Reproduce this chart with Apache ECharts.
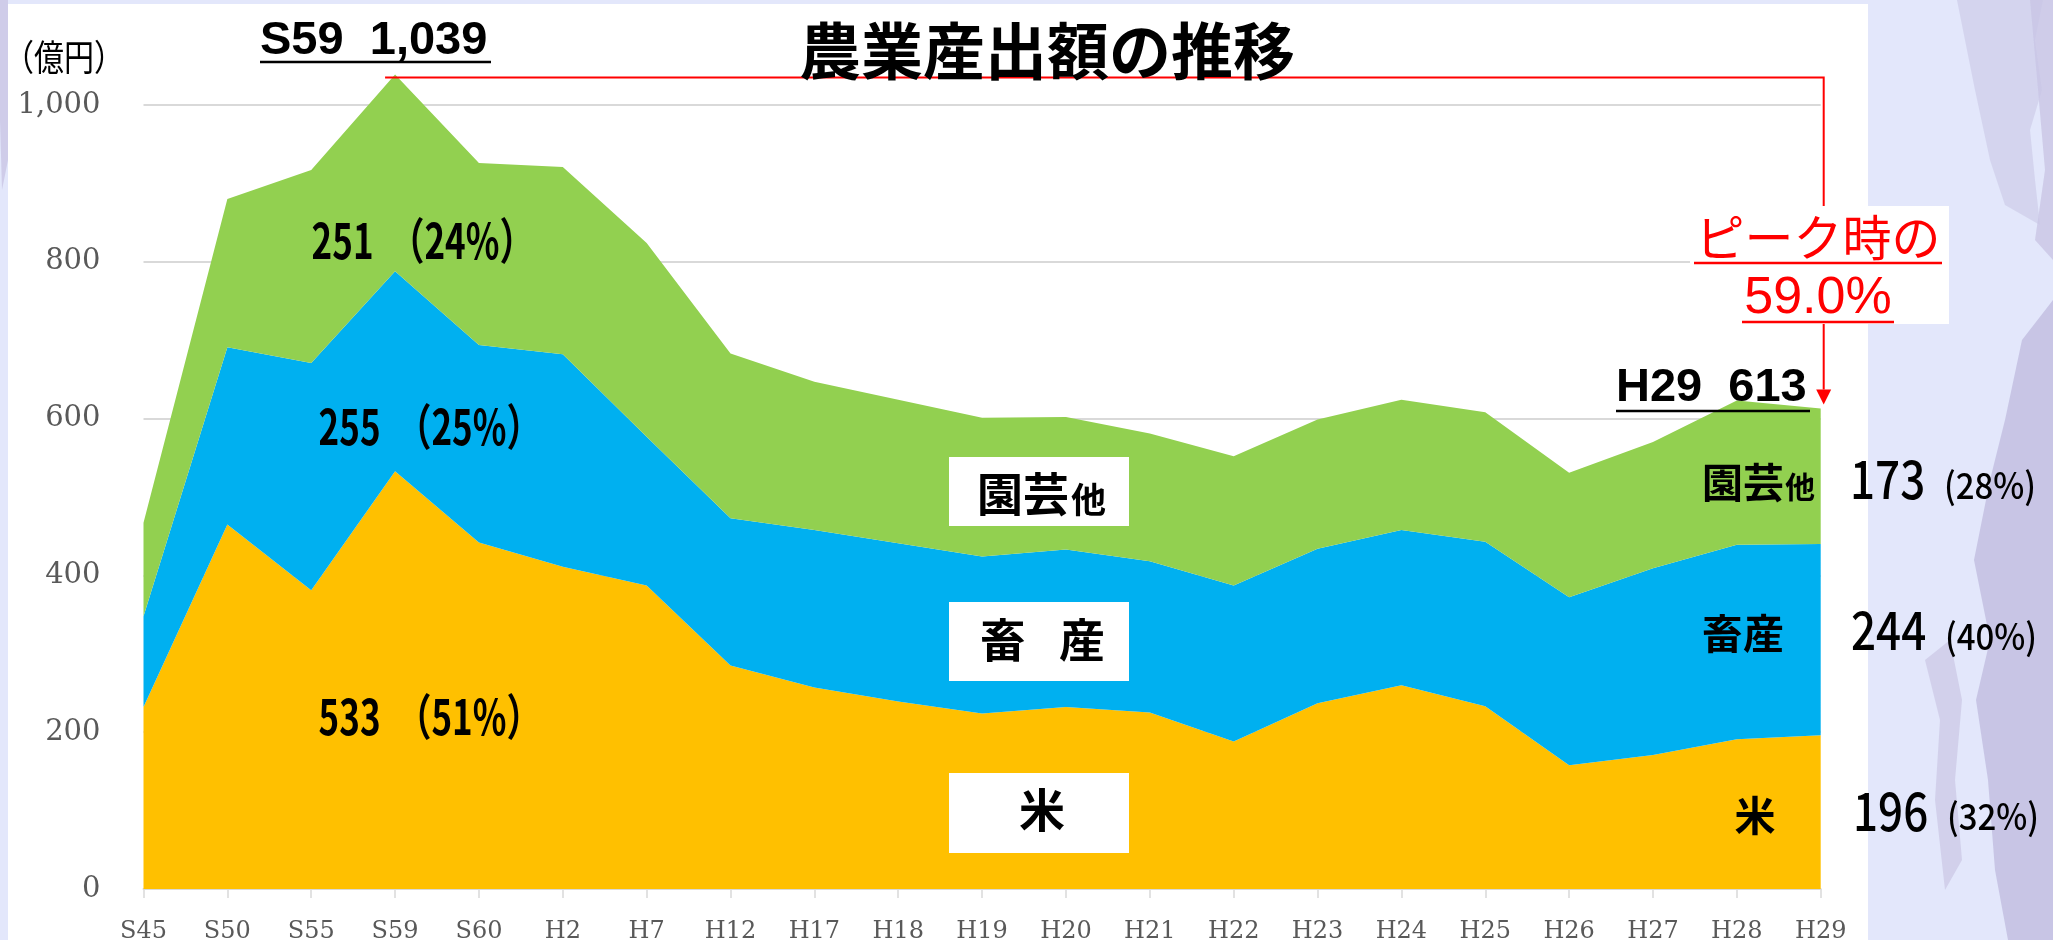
<!DOCTYPE html>
<html>
<head>
<meta charset="utf-8">
<script src="https://cdn.jsdelivr.net/npm/echarts@6/dist/echarts.min.js"></script>
<style>
  html, body { margin: 0; padding: 0; background: #e3e7fb; overflow: hidden; }
  #panel { position: absolute; left: 8px; top: 4px; width: 1860px; height: 936px; background: #fff; }
  #chart { position: absolute; left: 0; top: 0; width: 2053px; height: 940px; }
</style>
</head>
<body>
<div id="panel"></div>
<div id="chart"></div>
<script>
// 年次
const categories = ['S45', 'S50', 'S55', 'S59', 'S60', 'H2', 'H7', 'H12', 'H17', 'H18', 'H19',
  'H20', 'H21', 'H22', 'H23', 'H24', 'H25', 'H26', 'H27', 'H28', 'H29'];
// 米 (億円)
const rice = [232, 465, 381, 533, 442, 411, 387, 285, 257, 239, 224,
  232, 225, 188, 237, 260, 233, 158, 171, 191, 196];
// 畜産 (億円)
const livestock = [116, 226, 290, 255, 252, 271, 190, 188, 201, 202, 200,
  201, 193, 199, 197, 198, 210, 214, 238, 248, 244];
// 園芸他 (億円)
const horticulture = [119, 189, 246, 251, 232, 239, 247, 210, 189, 183, 177,
  169, 163, 165, 165, 166, 165, 159, 161, 184, 173];
// 縦軸
const yTicks = [0, 200, 400, 600, 800, 1000];

const chart = echarts.init(document.getElementById('chart'));

const totals = categories.map((c, i) => rice[i] + livestock[i] + horticulture[i]);
const peakIdx = categories.indexOf('S59');
const lastIdx = categories.length - 1;
const pct = (v, t) => Math.round(v / t * 100) + '%';
const fmt = (v) => v.toLocaleString('en-US');

const JP = '"Noto Sans CJK JP", "Noto Sans", sans-serif';
const AR = '"Liberation Sans", Arial, sans-serif';
const SERIF = '"DejaVu Serif", "Liberation Serif", serif';

function areaSeries(name, data, color) {
  return {
    name: name,
    type: 'line',
    stack: 'total',
    data: data,
    clip: false,
    symbol: 'none',
    showSymbol: false,
    lineStyle: { width: 0 },
    areaStyle: { color: color, opacity: 1 },
    itemStyle: { color: color },
    silent: true
  };
}

chart.setOption({
  backgroundColor: 'transparent',
  animation: false,
  grid: { left: 143.5, right: 232.3, top: 105, bottom: 51, containLabel: false, outerBoundsMode: 'none' },
  xAxis: {
    type: 'category',
    data: categories,
    boundaryGap: false,
    axisLine: { lineStyle: { color: '#d9d9d9', width: 2 } },
    axisTick: { show: true, length: 9, lineStyle: { color: '#d9d9d9', width: 1.5 } },
    axisLabel: { interval: 0, margin: 31, fontFamily: SERIF, fontSize: 24, color: '#595959' },
    splitLine: { show: false }
  },
  yAxis: {
    type: 'value',
    min: yTicks[0],
    max: yTicks[yTicks.length - 1],
    interval: 200,
    axisLine: { show: false },
    axisTick: { show: false },
    axisLabel: { margin: 43, fontFamily: SERIF, fontSize: 29, color: '#595959', formatter: (v) => fmt(v) },
    splitLine: { lineStyle: { color: '#d9d9d9', width: 2 } }
  },
  series: [
    areaSeries('米', rice, '#ffc000'),
    areaSeries('畜産', livestock, '#00b0f0'),
    areaSeries('園芸他', horticulture, '#92d050')
  ]
});

// 注記の位置はデータ点から求める
const [px, py] = chart.convertToPixel({ gridIndex: 0 }, [peakIdx, totals[peakIdx]]);
const [lx, ly] = chart.convertToPixel({ gridIndex: 0 }, [lastIdx, totals[lastIdx]]);
const ax = lx + 3;
const lineY = py + 3;

function txt(text, x, y, size, opts) {
  opts = opts || {};
  return {
    type: 'text',
    x: x, y: y,
    z: opts.z || 20,
    scaleY: opts.scaleY || 1,
    silent: true,
    style: {
      text: text,
      fill: opts.color || '#000',
      fontSize: size,
      fontFamily: opts.family || JP,
      fontWeight: opts.weight || 'bold',
      align: opts.align || 'left', textAlign: opts.align || 'left',
      verticalAlign: 'middle', textVerticalAlign: 'middle'
    }
  };
}
function rect(x, y, w, h, z) {
  return { type: 'rect', z: z || 15, silent: true, shape: { x: x, y: y, width: w, height: h }, style: { fill: '#fff' } };
}
function uline(x1, x2, y, color, w) {
  return { type: 'line', z: 21, silent: true, shape: { x1: x1, y1: y, x2: x2, y2: y }, style: { stroke: color, lineWidth: w } };
}
function deco(points, fill) {
  return { type: 'polygon', z: -5, silent: true, shape: { points: points }, style: { fill: fill, opacity: 0.8 } };
}

const shareRate = (totals[lastIdx] / totals[peakIdx] * 100).toFixed(1) + '%';

chart.setOption({
  graphic: { elements: [
    // 右側の装飾
    deco([[1957, 0], [2043, 0], [2035, 40], [2042, 90], [2030, 130], [2035, 180], [2040, 225], [2005, 205], [1990, 160], [1975, 90]], '#d0cfeb'),
    deco([[2030, 0], [2053, 0], [2053, 260], [2035, 240], [2045, 170], [2038, 90]], '#c9c6e5'),
    deco([[2053, 300], [2053, 940], [2008, 940], [1995, 870], [1988, 780], [1976, 700], [1990, 640], [1974, 560], [1990, 480], [2005, 420], [2022, 340]], '#c1bde0'),
    deco([[1925, 660], [1950, 640], [1962, 700], [1955, 780], [1962, 860], [1945, 890], [1935, 800], [1940, 720]], '#cdcae7'),
    deco([[0, 0], [8, 0], [8, 160], [2, 190], [0, 120]], '#c9c6e5'),

    // 題名と単位
    txt('農業産出額の推移', 1047, 51, 62, { align: 'center' }),
    txt('（億円）', 64, 57, 30, { align: 'center', weight: 'normal', scaleY: 1.2 }),

    // ピーク時の注記
    { type: 'polyline', z: 10, silent: true,
      shape: { points: [[px - 10, lineY], [ax, lineY], [ax, ly - 19]] },
      style: { stroke: '#ff0000', lineWidth: 2, fill: null } },
    { type: 'polygon', z: 10, silent: true,
      shape: { points: [[ax - 7.5, ly - 19], [ax + 7.5, ly - 19], [ax, ly - 4]] },
      style: { fill: '#ff0000' } },
    txt(categories[peakIdx] + '  ' + fmt(totals[peakIdx]), 260, 41, 47, { family: AR }),
    uline(260, 491, 62, '#000', 2.5),
    rect(1690, 206, 259, 118, 15),
    txt('ピーク時の', 1818, 237, 49, { align: 'center', color: '#ff0000', weight: 'normal' }),
    uline(1694, 1942, 263, '#ff0000', 2.5),
    txt(shareRate, 1818, 299, 52, { align: 'center', color: '#ff0000', weight: 'normal', family: AR }),
    uline(1742, 1894, 322, '#ff0000', 2.5),
    txt(categories[lastIdx] + '  ' + fmt(totals[lastIdx]), 1616, 388, 47, { family: AR }),
    uline(1616, 1810, 411, '#000', 2.5),

    // S59 内訳
    txt(horticulture[peakIdx] + '  （' + pct(horticulture[peakIdx], totals[peakIdx]) + '）', 423, 240, 35, { align: 'center', scaleY: 1.4 }),
    txt(livestock[peakIdx] + '  （' + pct(livestock[peakIdx], totals[peakIdx]) + '）', 430, 426, 35, { align: 'center', scaleY: 1.4 }),
    txt(rice[peakIdx] + '  （' + pct(rice[peakIdx], totals[peakIdx]) + '）', 430, 716, 35, { align: 'center', scaleY: 1.4 }),

    // 凡例ボックス
    rect(949, 457, 180, 69, 15),
    rect(949, 602, 180, 79, 15),
    rect(949, 773, 180, 80, 15),
    txt('園芸', 977, 494, 46),
    txt('他', 1071, 500, 35),
    txt('畜', 1003, 640, 46, { align: 'center' }),
    txt('産', 1082, 640, 46, { align: 'center' }),
    txt('米', 1042, 810, 46, { align: 'center' }),

    // H29 内訳
    txt('園芸', 1702, 482, 41),
    txt('他', 1785, 487, 30),
    txt('畜産', 1743, 633, 41, { align: 'center' }),
    txt('米', 1755, 815, 41, { align: 'center' }),
    txt(String(horticulture[lastIdx]), 1850, 479, 44, { weight: 500, scaleY: 1.2 }),
    txt('(' + pct(horticulture[lastIdx], totals[lastIdx]) + ')', 1944, 485, 33, { weight: 500, scaleY: 1.1 }),
    txt(String(livestock[lastIdx]), 1851, 630, 44, { weight: 500, scaleY: 1.2 }),
    txt('(' + pct(livestock[lastIdx], totals[lastIdx]) + ')', 1945, 636, 33, { weight: 500, scaleY: 1.1 }),
    txt(String(rice[lastIdx]), 1853, 811, 44, { weight: 500, scaleY: 1.2 }),
    txt('(' + pct(rice[lastIdx], totals[lastIdx]) + ')', 1947, 816, 33, { weight: 500, scaleY: 1.1 })
  ] }
});
</script>
</body>
</html>
